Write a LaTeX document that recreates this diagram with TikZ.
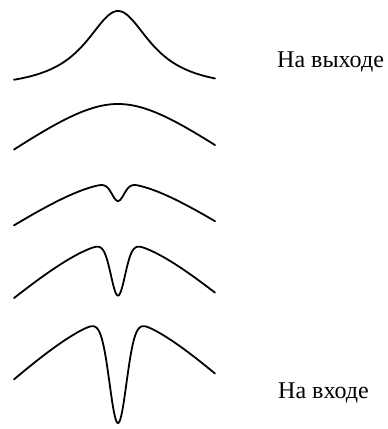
\documentclass[tikz,border=0pt]{standalone}
\usepackage{fontspec}
\setmainfont{Liberation Serif}
\begin{document}
\begin{tikzpicture}[x=1pt,y=-1pt,
  curve/.style={line width=1.8pt,line join=round,line cap=round},
  lbl/.style={anchor=base west,inner sep=0pt,font=\fontsize{24}{28}\selectfont},
  declare function={
    gs(\u,\w)=exp(max(-(\u/\w)*(\u/\w),-30));
    lor(\u,\w)=1/(1+(\u/\w)*(\u/\w));
    hb(\u)=sqrt(1+(\u/55)*(\u/55))-1;
  }]
\useasboundingbox (0,0) rectangle (388,429);
% curve 1 (output)
\draw[curve,domain=-104:97,samples=160,smooth] plot ({\x+118},{89.9-78.9*lor(\x,40)});
% curve 2
\draw[curve,domain=-104:97,samples=120,smooth] plot ({\x+118},{104+40*hb(\x)});
% curve 3
\draw[curve,domain=-104:97,samples=200,smooth] plot ({\x+118},{183+37.2*hb(\x)+18*gs(\x,8.5)});
% curve 4
\draw[curve,domain=-104:97,samples=220,smooth] plot ({\x+118},{242.6+48.7*hb(\x)+53*gs(\x,10)});
% curve 5 (input)
\draw[curve,domain=-104:97,samples=260,smooth] plot ({\x+118},{319.7+52.4*hb(\x)+103.3*gs(\x,12)});
\node[lbl] (out) at (277,67) {На выходе};
\node[lbl] (in) at (278,398) {На входе};
\end{tikzpicture}
\end{document}
